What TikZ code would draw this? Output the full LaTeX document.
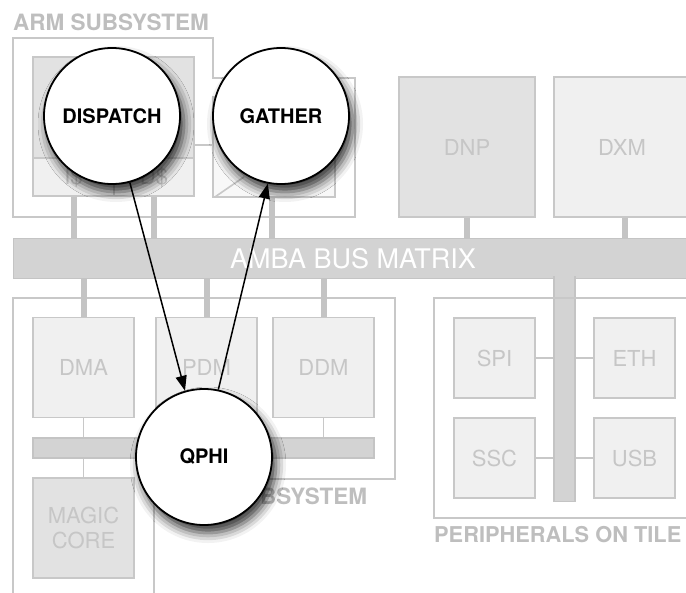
\documentclass[tikz,border=0pt]{standalone}
\usepackage{fontspec}
\setmainfont{TeX Gyre Heros}
\usetikzlibrary{arrows.meta,shadows.blur}
\definecolor{edgegray}{HTML}{C8C8C8}
\definecolor{stubgray}{HTML}{C4C4C4}
\definecolor{darkfill}{HTML}{E2E2E2}
\definecolor{lightfill}{HTML}{F0F0F0}
\definecolor{busfill}{HTML}{D3D3D3}
\definecolor{txtgray}{HTML}{C6C6C6}
\definecolor{lblgray}{HTML}{BEBEBE}
\tikzset{
  outline/.style={draw=edgegray, line width=1.6pt},
  blockbox/.style={rectangle, draw=edgegray, line width=1.6pt, fill=lightfill, text=txtgray,
    font=\fontsize{22}{25}\selectfont, inner sep=0pt, align=center},
  darkbox/.style={blockbox, fill=darkfill},
  busbox/.style={rectangle, draw=stubgray, line width=1.2pt, fill=busfill, inner sep=0pt},
  stub/.style={draw=stubgray, line width=6pt},
  thinlink/.style={draw=edgegray, line width=1.6pt},
  grouplabel/.style={text=lblgray, font=\bfseries\fontsize{22.5}{26}\selectfont, inner sep=0pt},
  bubble/.style={circle, draw=black, line width=1.8pt, fill=white, minimum size=136pt, inner sep=0pt,
    font=\bfseries\fontsize{20}{23}\selectfont,
    blur shadow={shadow xshift=4pt, shadow yshift=-8pt, shadow blur radius=10pt, shadow opacity=80}},
  flow/.style={line width=1.5pt, -{Triangle[length=15pt,width=11pt]}}
}
\begin{document}
\begin{tikzpicture}[x=1pt,y=-1pt]
\useasboundingbox (0,0) rectangle (686,593);

% ---------- ARM subsystem ----------
\node[grouplabel, anchor=base west] (armlbl) at (13,31) {ARM SUBSYSTEM};
\draw[outline] (13,38) -- (213,38) -- (213,78) -- (355,78) -- (355,217) -- (13,217) -- cycle;
\node[darkbox, minimum width=161pt, minimum height=101pt] (cpu) at (113.5,107.5) {};
\node[blockbox, minimum width=81pt, minimum height=38pt] (icache) at (73.5,177) {I\$};
\node[blockbox, minimum width=80pt, minimum height=38pt] (dcache) at (154,177) {D\$};
\node[blockbox, fill=white!50!lightfill, minimum width=122pt, minimum height=100pt] (rblock) at (274,147) {};
\draw[thinlink] (rblock.south west) ++(3,-1) -- ++(29,-20);
\draw[thinlink] (cpu.east |- 0,145) -- (rblock.west |- 0,145);

% ---------- top right blocks ----------
\node[darkbox, minimum width=136pt, minimum height=140pt] (dnp) at (467,147) {DNP};
\node[blockbox, minimum width=136pt, minimum height=140pt] (dxm) at (622,147) {DXM};

% ---------- main bus ----------
\node[busbox, minimum width=690pt, minimum height=40pt, anchor=north west] (bus) at (13,238) {};
\node[busbox, minimum width=21pt, minimum height=225pt, anchor=north] (pbus) at (564.5,276) {};
\fill[busfill] (555,275) rectangle (574,281);
\node[text=white, font=\fontsize{27}{30}\selectfont, inner sep=0pt] (buslbl) at (353,259) {AMBA BUS MATRIX};

% stubs to bus (top)
\draw[stub] (icache.south) -- (icache.south |- bus.north);
\draw[stub] (dcache.south) -- (dcache.south |- bus.north);
\draw[stub] (rblock.south) ++(-2,0) coordinate (rbs) -- (rbs |- bus.north);
\draw[stub] (dnp.south) -- (dnp.south |- bus.north);
\draw[stub] (dxm.south) ++(3,0) coordinate (dxs) -- (dxs |- bus.north);

% ---------- lower subsystem ----------
\draw[outline] (13,600) -- (13,298) -- (395,298) -- (395,479) -- (154,479) -- (154,600);
\node[grouplabel, anchor=base west] (sublbl) at (260,505) {BSYSTEM};
\node[blockbox, minimum width=101pt, minimum height=100pt] (dma) at (83.5,367.5) {DMA};
\node[blockbox, minimum width=101pt, minimum height=100pt] (pdm) at (206.5,367.5) {PDM};
\node[blockbox, minimum width=101pt, minimum height=100pt] (ddm) at (323.5,367.5) {DDM};
\node[busbox, minimum width=341pt, minimum height=20pt] (ibus) at (203.5,448) {};
\node[darkbox, minimum width=101pt, minimum height=100pt] (magic) at (83.5,528) {MAGIC\\CORE};

\draw[stub] (dma.north) -- (dma.north |- bus.south);
\draw[stub] (pdm.north) -- (pdm.north |- bus.south);
\draw[stub] (ddm.north) -- (ddm.north |- bus.south);
\draw[thinlink] (dma.south) -- (dma.south |- ibus.north);
\draw[thinlink] (pdm.south) -- (pdm.south |- ibus.north);
\draw[thinlink] (ddm.south) -- (ddm.south |- ibus.north);
\draw[thinlink] (ibus.south -| magic.north) -- (magic.north);

% ---------- peripherals ----------
\draw[outline] (700,298) -- (434,298) -- (434,518) -- (700,518);
\node[grouplabel, font=\bfseries\fontsize{21.8}{25}\selectfont, anchor=base west] (perlbl) at (434,543) {PERIPHERALS ON TILE};
\node[blockbox, minimum width=81pt, minimum height=80pt] (spi) at (494.5,358) {SPI};
\node[blockbox, minimum width=81pt, minimum height=80pt] (eth) at (634.5,358) {ETH};
\node[blockbox, minimum width=81pt, minimum height=80pt] (ssc) at (494.5,458) {SSC};
\node[blockbox, minimum width=81pt, minimum height=80pt] (usb) at (634.5,458) {USB};
\draw[thinlink] (spi.east) -- (spi.east -| pbus.west);
\draw[thinlink] (eth.west) -- (eth.west -| pbus.east);
\draw[thinlink] (ssc.east) -- (ssc.east -| pbus.west);
\draw[thinlink] (usb.west) -- (usb.west -| pbus.east);

% ---------- overlay bubbles ----------
\node[bubble] (dispatch) at (112,116) {DISPATCH};
\node[bubble] (gather) at (281,116) {GATHER};
\node[bubble] (qphi) at (204,457) {QPHI};
\draw[flow] (dispatch.-75) -- (qphi.106);
\draw[flow] (qphi.78) -- (gather.-101);
\end{tikzpicture}
\end{document}
